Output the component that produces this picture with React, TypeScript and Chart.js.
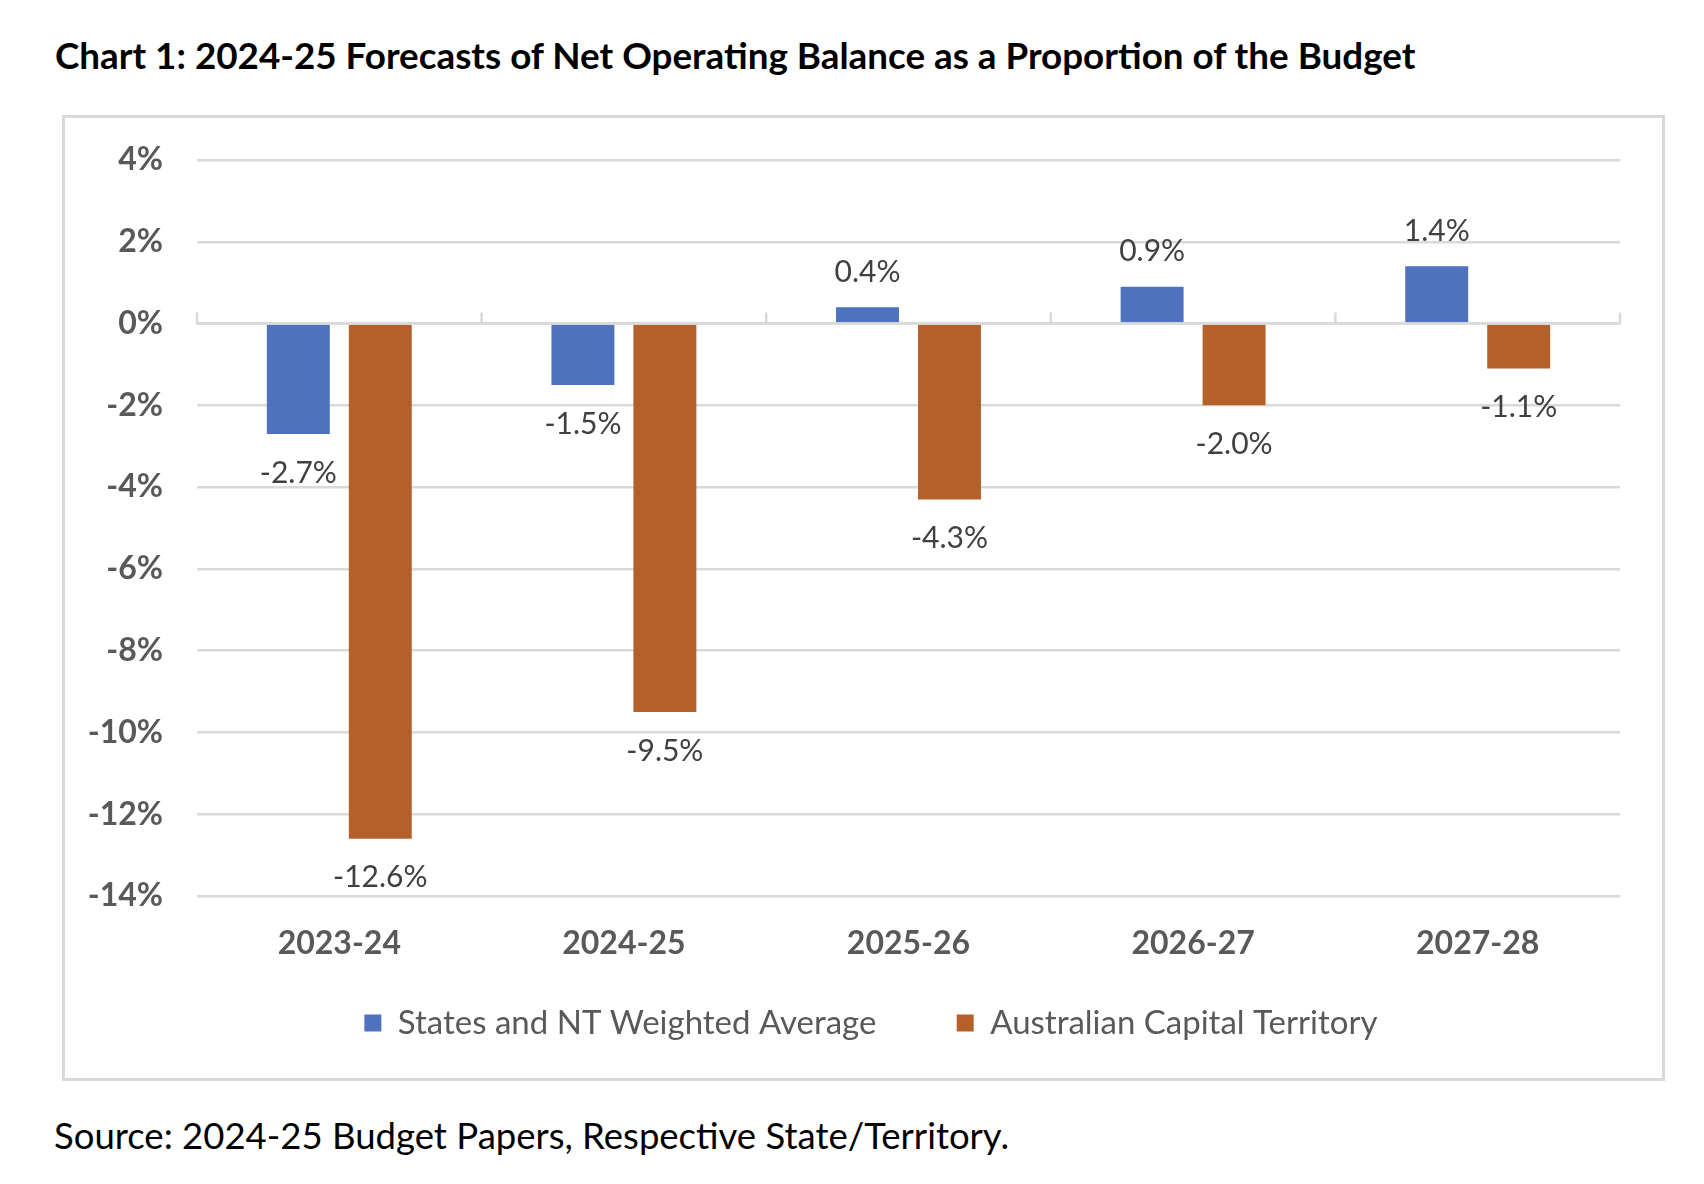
import { useEffect, useRef } from 'react'
import { Chart, registerables } from 'chart.js'

Chart.register(...registerables)

const categories = ['2023-24', '2024-25', '2025-26', '2026-27', '2027-28']
const seriesNames = ['States and NT Weighted Average', 'Australian Capital Territory']
const statesAverage = [-2.7, -1.5, 0.4, 0.9, 1.4]
const actBalance = [-12.6, -9.5, -4.3, -2.0, -1.1]
const yTicks = [4, 2, 0, -2, -4, -6, -8, -10, -12, -14]

const GRID = '#d9d9d9'
const AXIS_TEXT = '#595959'
const FONT = 'Lato'
const NBSP = '\u00a0'

// zero line with the small category tick marks, then the value labels
const barLabels = {
  id: 'barLabels',
  afterDatasetsDraw(chart: any) {
    const { ctx, chartArea, scales } = chart
    const xs = scales.x
    const ys = scales.y
    const zero = ys.getPixelForValue(0)
    const half = (xs.getPixelForValue(1) - xs.getPixelForValue(0)) / 2
    ctx.save()
    ctx.strokeStyle = GRID
    ctx.lineWidth = 2.5
    ctx.beginPath()
    ctx.moveTo(chartArea.left, zero)
    ctx.lineTo(chartArea.right, zero)
    for (let i = 0; i <= categories.length; i++) {
      const bx = xs.getPixelForValue(0) - half + i * 2 * half
      ctx.moveTo(bx, zero + 1)
      ctx.lineTo(bx, zero - 11)
    }
    ctx.stroke()

    ctx.font = `30px ${FONT}`
    ctx.fillStyle = '#404040'
    ctx.textAlign = 'center'
    ctx.textBaseline = 'middle'
    chart.data.datasets.forEach((ds: any, di: number) => {
      chart.getDatasetMeta(di).data.forEach((bar: any, i: number) => {
        const v = ds.data[i]
        const y = v < 0 ? bar.y + 39 : bar.y - 35
        ctx.fillText(`${v.toFixed(1)}%`, bar.x, y)
      })
    })
    ctx.restore()
  },
}

function BalanceChart() {
  const canvasRef = useRef<HTMLCanvasElement>(null)
  const chartRef = useRef<Chart | null>(null)

  useEffect(() => {
    if (!canvasRef.current) return
    if (chartRef.current) chartRef.current.destroy()

    chartRef.current = new Chart(canvasRef.current, {
      type: 'bar',
      data: {
        labels: categories,
        datasets: [
          {
            label: seriesNames[0],
            data: statesAverage,
            backgroundColor: '#4e72be',
            borderWidth: 0,
            categoryPercentage: 0.576,
            barPercentage: 0.768,
          },
          {
            label: seriesNames[1],
            data: actBalance,
            backgroundColor: '#b4602b',
            borderWidth: 0,
            categoryPercentage: 0.576,
            barPercentage: 0.768,
          },
        ],
      },
      options: {
        animation: false,
        responsive: true,
        maintainAspectRatio: false,
        layout: { padding: { top: 42, right: 42, left: 0, bottom: 28.5 } },
        scales: {
          x: {
            grid: { display: false, drawTicks: false },
            border: { display: false },
            afterFit: (s: any) => {
              s.height = 64
            },
            ticks: {
              padding: 28,
              color: AXIS_TEXT,
              font: { family: FONT, size: 32, weight: 'bold' },
            },
          },
          y: {
            min: -14,
            max: 4,
            afterBuildTicks: (s: any) => {
              s.ticks = yTicks.map((value) => ({ value }))
            },
            afterFit: (s: any) => {
              s.width = 132
            },
            // invisible tick marks give the label gap without adding top padding
            grid: { color: GRID, lineWidth: 2.5, drawTicks: true, tickLength: 34, tickColor: 'rgba(0,0,0,0)' },
            border: { display: false },
            ticks: {
              padding: 0,
              color: AXIS_TEXT,
              font: { family: FONT, size: 32, weight: 'bold' },
              callback: (v: any) => `${v}%`,
            },
          },
        },
        plugins: {
          legend: {
            position: 'bottom',
            fullSize: false,
            labels: {
              boxWidth: 17,
              boxHeight: 17,
              padding: 46.5,
              color: AXIS_TEXT,
              font: { family: FONT, size: 33 },
              // widen the gap between entries and nudge the row left
              generateLabels: (chart: any) => {
                const items = Chart.defaults.plugins.legend.labels.generateLabels(chart)
                return items.map((item: any, i: number) => ({
                  ...item,
                  text: item.text + NBSP.repeat(i === 0 ? 4 : 9),
                }))
              },
            },
          },
          tooltip: { enabled: false },
        },
      },
      plugins: [barLabels],
    })

    return () => {
      if (chartRef.current) {
        chartRef.current.destroy()
        chartRef.current = null
      }
    }
  }, [])

  return <canvas ref={canvasRef} />
}

export default function App() {
  return (
    <div style={{ position: 'absolute', left: 0, top: 0, width: 1704, height: 1184, background: '#fff' }}>
      <div
        style={{
          position: 'absolute',
          left: 55,
          top: 36,
          font: `bold 36.8px ${FONT}`,
          lineHeight: '38.4px',
          color: '#000',
          whiteSpace: 'nowrap',
        }}
      >
        Chart 1: 2024-25 Forecasts of Net Operating Balance as a Proportion of the Budget
      </div>
      <div
        style={{
          position: 'absolute',
          left: 62,
          top: 115,
          width: 1597,
          height: 960,
          border: `3px solid ${GRID}`,
        }}
      />
      <div style={{ position: 'absolute', left: 65, top: 118, width: 1597, height: 960 }}>
        <BalanceChart />
      </div>
      <div
        style={{
          position: 'absolute',
          left: 54,
          top: 1116,
          font: `36.5px ${FONT}`,
          lineHeight: '38.4px',
          color: '#000',
          whiteSpace: 'nowrap',
        }}
      >
        Source: 2024-25 Budget Papers, Respective State/Territory.
      </div>
    </div>
  )
}
